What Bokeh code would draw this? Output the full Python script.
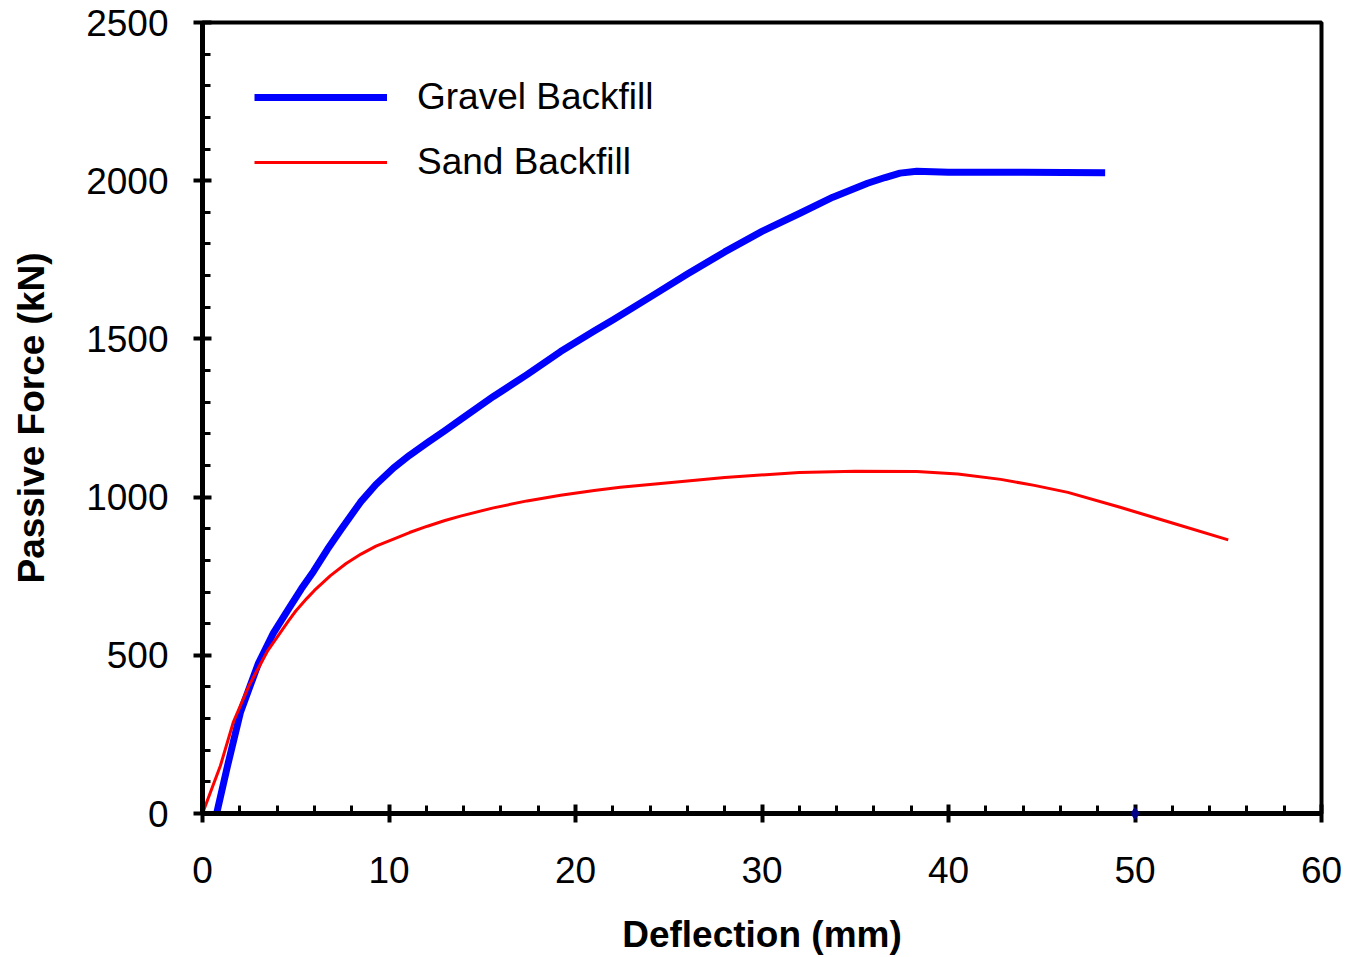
from bokeh.plotting import figure
from bokeh.models import Range1d, SingleIntervalTicker, Legend, LegendItem
from bokeh.embed import file_html
from bokeh.resources import INLINE

# Load-deflection curves for the two backfill types
gravel_defl = [0.7, 1.34, 2.04, 3.0, 3.8, 4.6, 5.3, 5.95, 6.7, 7.4, 8.47, 9.3, 10.24,
               11.1, 12.06, 13.0, 13.83, 15.6, 17.4, 19.2, 21.0, 22.0, 24.0, 26.0, 28.0,
               30.0, 32.06, 33.8, 35.66, 36.6, 37.4, 38.3, 40.0, 44.0, 48.4]
gravel_force = [-15, 150, 321, 475, 570, 645, 710, 765, 835, 895, 984, 1040, 1092,
                1132, 1172, 1210, 1245, 1318, 1387, 1460, 1525, 1560, 1632, 1705, 1775,
                1840, 1898, 1948, 1992, 2010, 2024, 2030, 2027, 2027, 2025]

sand_defl = [0.0, 0.96, 1.66, 2.5, 3.5, 4.6, 5.0, 5.6, 6.0, 6.86, 7.7, 8.5, 9.3, 10.24,
             11.1, 12.06, 13.0, 13.83, 15.6, 17.4, 19.2, 21.0, 22.4, 25.0, 28.0, 32.0,
             35.0, 38.3, 40.5, 42.8, 44.6, 46.4, 49.2, 52.0, 55.0]
sand_force = [0, 151, 290, 405, 515, 608, 640, 680, 705, 752, 790, 820, 845, 867,
              888, 908, 926, 940, 966, 988, 1006, 1021, 1031, 1045, 1062, 1078,
              1082, 1081, 1073, 1056, 1037, 1015, 968, 918, 865]

marker_defl = [50.0]
marker_force = [0.0]

series_names = ["Gravel Backfill", "Sand Backfill"]

FONT = "Liberation Sans"

p = figure(width=1347, height=957, output_backend="svg", toolbar_location=None,
           x_range=Range1d(0, 60), y_range=Range1d(0, 2500),
           min_border_left=202, min_border_right=26, min_border_top=22,
           min_border_bottom=142)
p.background_fill_color = "white"
p.border_fill_color = "white"
p.grid.visible = False
p.outline_line_color = "black"
p.outline_line_width = 4

g = p.line(gravel_defl, gravel_force, line_color="#0000ff", line_width=7,
           line_join="round")
s = p.line(sand_defl, sand_force, line_color="#ff0000", line_width=3,
           line_join="round")
p.scatter(marker_defl, marker_force, marker="diamond", size=12, color="#00008b", level="overlay")

p.xaxis.ticker = SingleIntervalTicker(interval=10, num_minor_ticks=5)
p.yaxis.ticker = SingleIntervalTicker(interval=500, num_minor_ticks=5)

for ax in (p.xaxis[0], p.yaxis[0]):
    ax.axis_line_width = 5
    ax.axis_line_color = "black"
    ax.major_tick_in = 9
    ax.major_tick_out = 9
    ax.major_tick_line_width = 4
    ax.minor_tick_in = 8
    ax.minor_tick_out = 0
    ax.minor_tick_line_width = 3
    ax.major_label_text_font = FONT
    ax.major_label_text_font_size = "37px"
    ax.major_label_text_color = "black"
    ax.axis_label_text_font = FONT
    ax.axis_label_text_font_style = "bold"
    ax.axis_label_text_font_size = "37px"
    ax.axis_label_text_color = "black"

p.xaxis.axis_label = "Deflection (mm)"
p.yaxis.axis_label = "Passive Force (kN)"
p.xaxis.major_label_standoff = 34
p.yaxis.major_label_standoff = 25
p.xaxis.axis_label_standoff = 28
p.yaxis.axis_label_standoff = 31

legend = Legend(items=[LegendItem(label=series_names[0], renderers=[g]),
                       LegendItem(label=series_names[1], renderers=[s])],
                location=(52, 630), padding=0, margin=0, spacing=23,
                glyph_width=133, glyph_height=22, label_height=37,
                label_standoff=30, border_line_color=None,
                background_fill_alpha=0,
                label_text_font=FONT, label_text_font_size="37px",
                label_text_color="black")
p.add_layout(legend)

open("out.html", "w").write(file_html(p, INLINE))
